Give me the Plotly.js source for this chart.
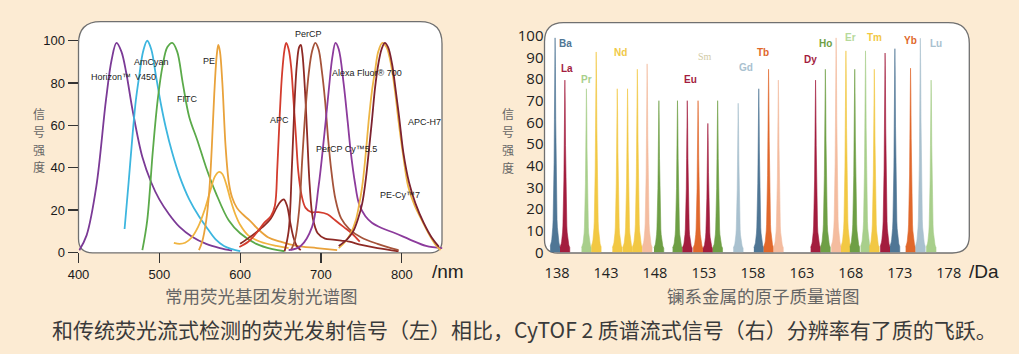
<!DOCTYPE html>
<html>
<head>
<meta charset="utf-8">
<script src="https://cdn.plot.ly/plotly-3.0.1.min.js"></script>
<style>
html,body{margin:0;padding:0;background:#FCEBD3;}
#chart{width:1019px;height:354px;}
</style>
</head>
<body>
<div id="chart"></div>
<script>
// ---------------- DATA: left chart (fluorophore emission spectra) ----------------
const wavelengthTicks = [400, 500, 600, 700, 800];
const intensityTicks = [0, 20, 40, 60, 80, 100];

const horizonX = [401, 410, 422, 434, 441, 447, 453, 459, 467, 479, 490, 500, 512, 525, 540, 558, 575, 590];
const horizonY = [1, 8, 31, 72, 91, 99, 95, 85, 67, 45, 33, 25, 18, 12, 7.5, 4, 2, 0.8];

const amcyanX = [457, 462, 467, 471, 475, 480, 485, 490, 496, 502, 508, 516, 525, 537, 549, 560, 570, 580, 590, 600];
const amcyanY = [11, 33, 56, 72, 83, 95, 100, 96, 83, 70, 59, 47, 36, 25, 17, 11, 6, 3, 1.5, 0.5];

const fitcX = [479, 485, 492, 498, 504, 510, 516, 522, 529, 537, 547, 558, 570, 586, 600, 620, 640, 655];
const fitcY = [1, 15, 48, 72, 88, 97, 99, 95, 80, 64, 53, 40, 28, 15, 9, 4, 1.5, 0.5];

const peX = [549, 553, 558, 562, 565, 568, 571, 573, 575, 578, 582, 586, 590, 596, 603, 612, 622, 635, 650, 670, 695, 720];
const peY = [1, 5, 15, 30, 50, 75, 93, 98, 95, 80, 50, 33, 26, 21, 18, 15, 11, 7, 5, 3, 2, 1];

const pe2X = [518, 525, 532, 540, 548, 556, 563, 569, 574, 578, 583, 588, 594, 600, 610, 625, 645, 660];
const pe2Y = [4.5, 4, 4.5, 7, 12, 20, 29, 36, 38, 37, 32, 25, 18, 13, 8, 5, 3, 2];

const apcX = [599, 610, 620, 630, 638, 643, 646, 649, 652, 655, 657, 660, 663, 666, 669, 672, 676, 681, 688, 697, 708, 718, 728, 738, 748];
const apcY = [2.5, 5, 9, 14, 17, 22, 40, 65, 85, 96, 99, 96, 88, 72, 55, 38, 27, 21, 19, 19, 18, 15, 12, 9, 5];

const humpX = [600, 615, 628, 638, 645, 650, 654, 658, 662, 666, 670, 675];
const humpY = [4, 8, 12, 16, 21, 24, 25, 22, 14, 7, 3, 1];

const percpX = [655, 660, 664, 667, 670, 673, 675, 677, 680, 683, 686, 690, 696, 705, 715, 725, 735, 750, 770, 796];
const percpY = [0.5, 10, 40, 68, 88, 97, 98, 94, 78, 55, 32, 16, 9, 6.5, 6, 5.5, 5, 3.5, 2, 0.5];

const percpCyX = [663, 668, 673, 677, 681, 685, 689, 693, 697, 701, 705, 709, 713, 718, 725, 735, 750, 770, 796];
const percpCyY = [1, 6, 20, 45, 68, 85, 95, 99, 96, 86, 72, 53, 38, 25, 16, 11, 7, 4, 1];

const alexaX = [660, 675, 689, 697, 704, 710, 714, 718, 722, 728, 733, 737, 742, 747, 755, 763, 775, 792, 810, 830, 850];
const alexaY = [1, 3, 12, 31, 55, 78, 92, 99, 96, 80, 62, 47, 33, 23, 17, 14, 11.5, 9, 6, 3, 2];

const pecy7X = [722, 730, 737, 743, 747, 751, 755, 759, 763, 767, 771, 776, 781, 785, 788, 792, 796, 802, 808, 816, 825, 833, 841, 848];
const pecy7Y = [2, 5, 9, 15, 22, 31, 45, 62, 76, 86, 95, 99, 97, 92, 86, 75, 62, 45, 31, 22, 15, 9, 4, 1];

const apch7X = [722, 732, 740, 746, 751, 755, 759, 763, 767, 771, 775, 779, 783, 788, 792, 797, 802, 809, 817, 827, 837, 846];
const apch7Y = [3, 6, 10, 16, 23, 33, 47, 62, 78, 89, 96, 99, 97, 89, 78, 63, 47, 33, 23, 14, 7, 2.6];

// ---------------- DATA: right chart (lanthanide mass peaks) ----------------
const massTicks = [138, 143, 148, 153, 158, 163, 168, 173, 178];
const signalTicks = [0, 10, 20, 30, 40, 50, 60, 70, 80, 90, 100];
const peakMass = [137.8, 138.8, 141.0, 142.0, 144.15, 145.2, 146.2, 147.2, 148.4, 150.3, 151.3, 152.4, 153.4, 154.4, 156.5, 158.6, 159.6, 160.6, 164.4, 165.4, 166.5, 167.5, 168.4, 169.5, 170.4, 171.5, 172.5, 174.1, 175.1, 176.2];
const peakHeight = [99, 79.5, 75.5, 92.5, 75.5, 75.5, 84.5, 87, 70, 70, 70, 70, 59.5, 70, 68.8, 75.5, 84.5, 79.5, 79.5, 84.5, 99, 93, 84.5, 93, 84.5, 92, 94, 85, 98.8, 79.5];
const elementNames = ["Ba", "La", "Pr", "Nd", "Sm", "Eu", "Gd", "Tb", "Dy", "Ho", "Er", "Tm", "Yb", "Lu"];

// ---------------- STYLE ----------------
const W = 1019, H = 354;
const C = {blue:"#4F7695", crim:"#A31D3E", lgreen:"#A8CF8B", yel:"#F2C843", peach:"#F4BC9F", green:"#6E9F45", orange:"#E0682C", gray:"#A9C1CF"};
const peakColors = [C.blue, C.crim, C.lgreen, C.yel, C.yel, C.yel, C.yel, C.peach, C.green, C.green, C.crim, C.orange, C.crim, C.green, C.gray, C.blue, C.orange, C.peach, C.crim, C.green, C.peach, C.yel, C.green, C.lgreen, C.yel, C.crim, C.blue, C.orange, C.gray, C.lgreen];
const elementColors = [C.blue, C.crim, C.lgreen, "#F0C948", "#D2CBA6", C.crim, C.gray, C.orange, C.crim, C.green, "#B6D99A", C.yel, C.orange, C.gray];
// label placement (data coords of right chart)
const elementPos = [[138.87,96.2],[139.02,84.7],[140.96,79.6],[144.53,92.1],[153.1,90.2],[151.67,79.6],[157.29,85.1],[159.07,92.1],[163.92,88.8],[165.45,96.2],[167.95,99.0],[170.45,99.0],[174.12,97.6],[176.67,96.2]];

const px = v => v / W;
const py = v => 1 - v / H;

const traces = [];
function curve(x, y, color) {
  traces.push({x: x, y: y, type: "scatter", mode: "lines", xaxis: "x", yaxis: "y",
    line: {color: color, width: 1.8, shape: "spline", smoothing: 1}, hoverinfo: "skip"});
}
curve(horizonX, horizonY, "#7B3A96");
curve(amcyanX, amcyanY, "#3DB6DF");
curve(fitcX, fitcY, "#5BAA4A");
curve(pe2X, pe2Y, "#F0B440");
curve(peX, peY, "#E9A23B");
curve(humpX, humpY, "#8E2A25");
curve(apcX, apcY, "#D33C2E");
curve(percpX, percpY, "#8E2A25");
curve(percpCyX, percpCyY, "#A5533A");
curve(alexaX, alexaY, "#8C3B9C");
curve(pecy7X, pecy7Y, "#EDB544");
curve(apch7X, apch7Y, "#7C2230");

// spikes for mass peaks
const g = 0.085, half = 0.5, N = 30;
for (let i = 0; i < peakMass.length; i++) {
  const xs = [], ys = [];
  for (let k = 0; k <= N; k++) {
    const d = -half + 2 * half * k / N;
    xs.push(peakMass[i] + d);
    ys.push(peakHeight[i] / (1 + (d / g) * (d / g)));
  }
  xs.push(peakMass[i] + half, peakMass[i] - half);
  ys.push(0, 0);
  traces.push({x: xs, y: ys, type: "scatter", mode: "lines", fill: "toself", fillcolor: peakColors[i],
    line: {color: peakColors[i], width: 0.6}, xaxis: "x2", yaxis: "y2", hoverinfo: "skip"});
}

function rr(x0, y0, x1, y1, r) {
  const P = (x, y) => (x / W).toFixed(5) + "," + (1 - y / H).toFixed(5);
  return "M " + P(x0 + r[0], y0) + " L " + P(x1 - r[1], y0) + " Q " + P(x1, y0) + " " + P(x1, y0 + r[1]) +
    " L " + P(x1, y1 - r[2]) + " Q " + P(x1, y1) + " " + P(x1 - r[2], y1) +
    " L " + P(x0 + r[3], y1) + " Q " + P(x0, y1) + " " + P(x0, y1 - r[3]) +
    " L " + P(x0, y0 + r[0]) + " Q " + P(x0, y0) + " " + P(x0 + r[0], y0) + " Z";
}

const annotations = [];
function ann(text, x, y, opts) {
  annotations.push(Object.assign({text: text, x: x, y: y, showarrow: false, xanchor: "center", yanchor: "middle"}, opts));
}
const labFont = {family: "Liberation Sans, Arial, sans-serif", size: 9, color: "#222"};
const dyeLabels = [["Horizon™", 440.5, 82.8], ["V450", 483, 82.8], ["AmCyan", 490.3, 89.9], ["FITC", 534.3, 72.4], ["PE", 561.5, 90.4],
  ["PerCP", 684, 103.2], ["Alexa Fluor® 700", 756.4, 84.7], ["APC", 648.8, 62.5], ["APC-H7", 827.6, 61.6],
  ["PerCP Cy™5.5", 731.7, 48.8], ["PE-Cy™7", 797.3, 27.1]];
dyeLabels.forEach(l => ann(l[0], l[1], l[2], {xref: "x", yref: "y", font: labFont}));

elementNames.forEach((n, i) => {
  const f = {family: "Liberation Sans, Arial, sans-serif", size: 10, color: elementColors[i]};
  ann(n === "Sm" ? n : "<b>" + n + "</b>", elementPos[i][0], elementPos[i][1],
    {xref: "x2", yref: "y2", font: n === "Sm" ? {family: "Liberation Serif, serif", size: 10, color: elementColors[i]} : f});
});

const titleFont = {family: "Noto Sans CJK SC, sans-serif", size: 12, color: "#666"};
["信", "号", "强", "度"].forEach((ch, k) => {
  ann(ch, px(38.5), py(113 + k * 18), {xref: "paper", yref: "paper", font: titleFont, borderpad: 0});
  ann(ch, px(507.5), py(113.5 + k * 18), {xref: "paper", yref: "paper", font: titleFont, borderpad: 0});
});
ann("常用荧光基团发射光谱图", px(261), py(295), {xref: "paper", yref: "paper", font: {family: "Noto Sans CJK SC, sans-serif", size: 17.5, color: "#666"}});
ann("镧系金属的原子质量谱图", px(763), py(295), {xref: "paper", yref: "paper", font: {family: "Noto Sans CJK SC, sans-serif", size: 17.5, color: "#666"}});
ann("/nm", px(448), py(271), {xref: "paper", yref: "paper", font: {family: "Liberation Sans, Arial, sans-serif", size: 19, color: "#222"}});
ann("/Da", px(984), py(271), {xref: "paper", yref: "paper", font: {family: "Liberation Sans, Arial, sans-serif", size: 19, color: "#222"}});
ann("和传统荧光流式检测的荧光发射信号（左）相比，CyTOF 2 质谱流式信号（右）分辨率有了质的飞跃。", px(524), py(329),
  {xref: "paper", yref: "paper", font: {family: "Noto Sans CJK SC, sans-serif", size: 21, color: "#3a3a3a"}});

const layout = {
  width: W, height: H,
  margin: {l: 0, r: 0, t: 0, b: 0},
  paper_bgcolor: "#FCEBD3", plot_bgcolor: "rgba(0,0,0,0)",
  showlegend: false, hovermode: false,
  xaxis: {domain: [px(78.5), px(443)], range: [400, 851], tickvals: wavelengthTicks, ticks: "outside", ticklen: 10,
    tickcolor: "#333", tickwidth: 1.2, showgrid: false, zeroline: false, showline: false,
    tickfont: {family: "Liberation Sans, Arial, sans-serif", size: 13, color: "#1a1a1a"}},
  yaxis: {domain: [py(252.3), py(21.7)], range: [0, 109], tickvals: intensityTicks, ticks: "outside", ticklen: 10,
    tickcolor: "#333", tickwidth: 1.2, showgrid: false, zeroline: false, showline: false,
    tickfont: {family: "Liberation Sans, Arial, sans-serif", size: 13, color: "#1a1a1a"}},
  xaxis2: {domain: [px(544.5), px(969.3)], range: [136.72, 180.1], tickvals: massTicks, ticks: "outside", ticklen: 7,
    tickcolor: "rgba(0,0,0,0)", showgrid: false, zeroline: false, showline: false, anchor: "y2",
    tickfont: {family: "Open Sans, sans-serif", size: 14.5, color: "#222"}},
  yaxis2: {domain: [py(252.3), py(22.5)], range: [0, 106.1], tickvals: signalTicks, ticks: "", showgrid: false,
    zeroline: false, showline: false, anchor: "x2",
    tickfont: {family: "Open Sans, sans-serif", size: 15, color: "#222"}},
  shapes: [
    {type: "path", xref: "paper", yref: "paper", layer: "below", path: rr(78.5, 21.7, 442, 252.8, [22, 22, 12, 14]),
      fillcolor: "#ffffff", line: {color: "#707070", width: 1.3}},
    {type: "path", xref: "paper", yref: "paper", layer: "below", path: rr(544.5, 22.7, 969.3, 253, [19, 21, 17, 13]),
      fillcolor: "#ffffff", line: {color: "#707070", width: 1.3}}
  ],
  annotations: annotations
};

Plotly.newPlot("chart", traces, layout, {displayModeBar: false, staticPlot: true});
</script>
</body>
</html>
